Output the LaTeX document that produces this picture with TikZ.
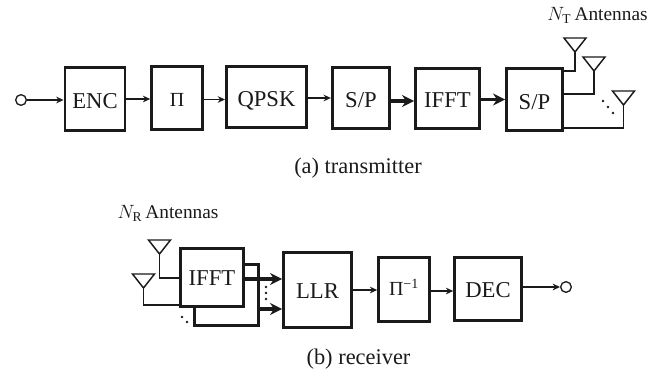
\documentclass[tikz,border=0pt]{standalone}
\usepackage{fontspec}
\setmainfont{Liberation Serif}
\usepackage{amsmath}
\usetikzlibrary{arrows.meta,positioning,calc}
\definecolor{ink}{HTML}{1A1A1A}
\tikzset{
  block/.style={rectangle, draw=ink, fill=white, line width=2.2pt, align=center, inner sep=0pt, text height=12.5pt, text depth=0pt, font=\fontsize{17}{19}\selectfont, text=ink},
  txblock/.style={block, text height=14.5pt},
  smallblock/.style={block, font=\fontsize{15}{17}\selectfont},
  flow/.style={-{Stealth[length=5.5pt,width=5pt]}, draw=ink, line width=1pt},
  busflow/.style={-{Stealth[length=9pt,width=9pt]}, draw=ink, line width=2.4pt},
  feed/.style={draw=ink, line width=1.1pt},
  port/.style={circle, draw=ink, line width=1pt, fill=white, minimum size=8pt, inner sep=0pt},
  lbl/.style={font=\fontsize{14.5}{16}\selectfont, text=ink, inner sep=0pt},
  caption/.style={font=\fontsize{16.8}{19}\selectfont, text=ink, inner sep=0pt},
  dotty/.style={circle, fill=ink, inner sep=0pt, minimum size=2pt},
  antenna/.pic={\draw[ink, line width=1.1pt, fill=white] (-11,-14) -- (11,-14) -- (0,0) -- cycle;}
}
\begin{document}
\begin{tikzpicture}[x=0.75pt, y=-0.75pt]
  \useasboundingbox (0,0) rectangle (665,372);
  % transmitter
  \node[port] (src) at (21,100) {};
  \node[txblock, minimum width=45pt, minimum height=47pt] (enc) at (95,99) {ENC};
  \node[smallblock, text height=13pt, minimum width=38pt, minimum height=47pt] (pi) at (177,98) {Π};
  \node[txblock, minimum width=60pt, minimum height=46pt] (qpsk) at (266.5,97) {QPSK};
  \node[txblock, minimum width=43pt, minimum height=46pt] (sp) at (361,98) {S/P};
  \node[txblock, text height=13.2pt, minimum width=48pt, minimum height=45pt] (ifft) at (447.5,98.5) {IFFT};
  \node[txblock, minimum width=42pt, minimum height=46.5pt] (spout) at (534.5,99.5) {S/P};
  \draw[flow] (src) -- (enc.west |- src);
  \draw[flow] (enc.east |- 0,99) -- (pi.west |- 0,99);
  \draw[flow] (pi.east |- 0,99.5) -- (qpsk.west |- 0,99.5);
  \draw[flow] (qpsk.east |- 0,98) -- (sp.west |- 0,98);
  \draw[busflow] (sp.east |- 0,101) -- (ifft.west |- 0,101);
  \draw[busflow] (ifft.east |- 0,99.5) -- (spout.west |- 0,99.5);
  % transmit antennas
  \coordinate (tx1) at (575,52);
  \coordinate (tx2) at (594,71);
  \coordinate (tx3) at (623.5,105);
  \draw[feed] (spout.east |- 0,71) -| (tx1);
  \draw[feed] (spout.east |- 0,94) -| (tx2);
  \draw[feed] (spout.east |- 0,128) -| (tx3);
  \pic at (tx1) {antenna};
  \pic at (tx2) {antenna};
  \pic at (tx3) {antenna};
  \node[dotty] (dota) at (603,101) {};
  \node[dotty] (dotb) at (608,107) {};
  \node[dotty] (dotc) at (613,113) {};
  \node[lbl] (ntx) at (597.5,15) {$N_{\mathrm{T}}$\,Antennas};
  \node[caption] (capa) at (358,168) {(a) transmitter};
  % receiver
  \node[block, minimum width=48pt, minimum height=46pt] (backfft) at (226.5,295) {};
  \node[block, minimum width=47pt, minimum height=43.5pt] (rxfft) at (212,277.5) {IFFT};
  \node[block, minimum width=51pt, minimum height=56pt] (llr) at (317.5,290) {LLR};
  \node[smallblock, text height=8.5pt, minimum width=38pt, minimum height=48pt] (pinv) at (404,289.5) {Π\textsuperscript{−1}};
  \node[block, minimum width=50pt, minimum height=47pt] (dec) at (488,289) {DEC};
  \node[port] (sink) at (566,287) {};
  \draw[busflow] (rxfft.east |- 0,279) -- (llr.west |- 0,279);
  \draw[busflow] (backfft.east |- 0,309) -- (llr.west |- 0,309);
  \draw[flow] (llr.east |- 0,290) -- (pinv.west |- 0,290);
  \draw[flow] (pinv.east |- 0,291) -- (dec.west |- 0,291);
  \draw[flow] (dec.east |- sink) -- (sink);
  % receive antennas
  \coordinate (rx1) at (159.5,254);
  \coordinate (rx2) at (143.5,288);
  \draw[feed] (rx1) |- (rxfft.west |- 0,278);
  \draw[feed] (rx2) |- (rxfft.west |- 0,305);
  \pic at (rx1) {antenna};
  \pic at (rx2) {antenna};
  \node[dotty] (vdota) at (266,287) {};
  \node[dotty] (vdotb) at (266,293) {};
  \node[dotty] (vdotc) at (266,299) {};
  \node[dotty] (dotd) at (182,317) {};
  \node[dotty] (dote) at (187,322) {};
  \node[lbl] (nrx) at (168,213) {$N_{\mathrm{R}}$\,Antennas};
  \node[caption] (capb) at (358.5,359) {(b) receiver};
\end{tikzpicture}
\end{document}
